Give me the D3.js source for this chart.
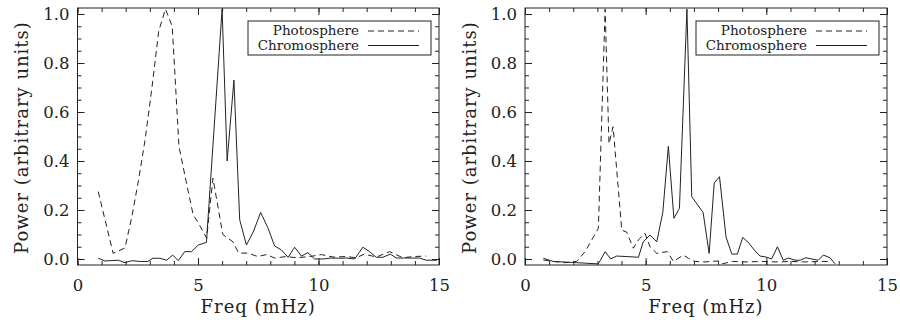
<!DOCTYPE html>
<html>
<head>
<meta charset="utf-8">
<script src="https://cdn.jsdelivr.net/npm/d3@7"></script>
<style>
  html, body { margin: 0; padding: 0; background: #fff; }
  svg { display: block; }
  text { font-family: "DejaVu Serif", "Liberation Serif", serif; fill: #222; }
</style>
</head>
<body>
<svg id="chart" width="900" height="327"></svg>
<script>
// ---------------- DATA ----------------
const xTickValues = [0, 5, 10, 15];
const xTickLabels = ["0", "5", "10", "15"];
const yTickValues = [0.0, 0.2, 0.4, 0.6, 0.8, 1.0];
const yTickLabels = ["0.0", "0.2", "0.4", "0.6", "0.8", "1.0"];
const seriesNames = ["Photosphere", "Chromosphere"];
const xTitle = "Freq (mHz)";
const yTitle = "Power (arbitrary units)";

// Left panel
const leftPhotoFreq  = [0.86, 1.48, 1.97, 2.25, 2.53, 2.81, 3.09, 3.37, 3.65, 3.93, 4.21, 4.50, 4.80, 5.00, 5.36, 5.62, 5.78, 6.03, 6.45, 6.69, 7.07, 7.48, 7.84, 8.18, 8.67, 9.08, 9.64, 10.12, 10.60, 11.16, 11.57, 11.90, 12.40, 12.95, 13.50, 13.92, 14.47];
const leftPhotoPower = [0.275, 0.023, 0.045, 0.17, 0.32, 0.49, 0.70, 0.93, 1.02, 0.95, 0.46, 0.32, 0.18, 0.15, 0.085, 0.33, 0.24, 0.10, 0.07, 0.024, 0.024, 0.010, 0.018, 0.004, 0.010, 0.005, 0.010, 0.018, 0.008, 0.010, 0.005, 0.020, 0.008, 0.030, 0.005, 0.010, 0.012];

const leftChromoFreq  = [0.86, 1.14, 1.69, 1.97, 2.25, 2.59, 2.92, 3.13, 3.42, 3.70, 3.95, 4.18, 4.45, 4.73, 5.01, 5.35, 6.00, 6.21, 6.49, 6.73, 7.01, 7.29, 7.60, 7.91, 8.18, 8.46, 8.74, 9.01, 9.29, 9.56, 9.84, 10.19, 10.53, 10.88, 11.16, 11.50, 11.84, 12.12, 12.40, 12.67, 12.98, 13.23, 13.57, 13.92, 14.19, 14.47, 14.91];
const leftChromoPower = [0.003, -0.008, -0.005, -0.015, -0.007, -0.010, -0.010, 0.003, 0.003, -0.005, 0.016, -0.007, 0.030, 0.030, 0.057, 0.068, 1.02, 0.40, 0.73, 0.16, 0.057, 0.11, 0.19, 0.125, 0.053, 0.037, 0.007, 0.048, 0.012, 0.026, 0.000, 0.000, 0.004, 0.003, 0.004, 0.000, 0.048, 0.030, 0.007, 0.007, 0.020, 0.004, 0.004, 0.004, 0.004, -0.005, -0.005];

// Right panel
const rightPhotoFreq  = [0.76, 1.17, 1.66, 2.14, 2.49, 3.04, 3.32, 3.48, 3.65, 4.01, 4.21, 4.49, 4.70, 4.97, 5.18, 5.46, 5.90, 6.15, 6.56, 6.77, 7.05, 7.46, 8.01, 8.16, 8.60, 9.20, 9.80, 10.40, 11.00, 11.60, 12.20, 12.60];
const rightPhotoPower = [-0.004, -0.010, -0.015, -0.010, 0.030, 0.125, 1.02, 0.47, 0.54, 0.118, 0.11, 0.044, 0.078, 0.105, 0.050, 0.023, 0.030, -0.010, 0.016, 0.003, -0.010, -0.012, -0.008, -0.020, -0.010, -0.012, -0.010, -0.012, -0.010, -0.012, -0.010, -0.010];

const rightChromoFreq  = [0.76, 1.17, 2.14, 3.04, 3.32, 3.55, 3.80, 4.23, 4.70, 4.90, 5.18, 5.46, 5.71, 5.94, 6.17, 6.40, 6.71, 6.91, 7.38, 7.63, 7.84, 8.06, 8.33, 8.57, 8.80, 9.02, 9.25, 9.53, 9.74, 9.99, 10.22, 10.46, 10.70, 10.91, 11.19, 11.40, 11.64, 11.89, 12.15, 12.36, 12.64, 12.85];
const rightChromoPower = [0.003, -0.010, -0.015, -0.020, 0.030, 0.000, 0.012, 0.010, 0.007, 0.070, 0.098, 0.070, 0.19, 0.46, 0.166, 0.207, 1.02, 0.254, 0.19, 0.023, 0.31, 0.336, 0.09, 0.020, 0.020, 0.088, 0.068, 0.033, 0.012, 0.008, 0.000, 0.050, -0.005, 0.004, -0.005, -0.005, 0.005, 0.000, -0.005, 0.016, 0.005, -0.020];

// ---------------- DRAW ----------------
const svg = d3.select("#chart");
const ink = "#222";
const plotTop = 8, plotBottom = 265;

const panels = [
  { id: "L", x0: 77.5, x1: 439, titleX: 22,
    photo: [leftPhotoFreq, leftPhotoPower], chromo: [leftChromoFreq, leftChromoPower] },
  { id: "R", x0: 525, x1: 887, titleX: 470,
    photo: [rightPhotoFreq, rightPhotoPower], chromo: [rightChromoFreq, rightChromoPower] }
];

const minorX = d3.range(0, 16, 1);
const minorY = d3.range(0, 21, 1).map(i => +(i * 0.05).toFixed(2));

panels.forEach(p => {
  const x = d3.scaleLinear().domain([0, 15]).range([p.x0, p.x1]);
  const y = d3.scaleLinear().domain([-0.0245, 1.0245]).range([plotBottom, plotTop]);
  const g = svg.append("g");

  svg.append("clipPath").attr("id", "clip" + p.id)
    .append("rect").attr("x", p.x0).attr("y", plotTop)
    .attr("width", p.x1 - p.x0).attr("height", plotBottom - plotTop);

  const styleAxis = sel => {
    sel.select(".domain").remove();
    sel.selectAll(".tick line").attr("stroke", ink).attr("stroke-width", 1);
    sel.selectAll(".tick text").style("font-size", "16.5px").attr("fill", ink);
  };

  // bottom axis
  g.append("g").attr("transform", `translate(0,${plotBottom})`)
    .call(d3.axisBottom(x).tickValues(minorX).tickSize(-4).tickFormat(""))
    .call(styleAxis);
  g.append("g").attr("transform", `translate(0,${plotBottom})`)
    .call(d3.axisBottom(x).tickValues(xTickValues).tickSize(-7).tickPadding(14)
      .tickFormat((d, i) => xTickLabels[i]))
    .call(styleAxis);
  // top axis
  g.append("g").attr("transform", `translate(0,${plotTop})`)
    .call(d3.axisTop(x).tickValues(minorX).tickSize(-4).tickFormat(""))
    .call(styleAxis);
  g.append("g").attr("transform", `translate(0,${plotTop})`)
    .call(d3.axisTop(x).tickValues(xTickValues).tickSize(-7).tickFormat(""))
    .call(styleAxis);
  // left axis
  g.append("g").attr("transform", `translate(${p.x0},0)`)
    .call(d3.axisLeft(y).tickValues(minorY).tickSize(-4).tickFormat(""))
    .call(styleAxis);
  g.append("g").attr("transform", `translate(${p.x0},0)`)
    .call(d3.axisLeft(y).tickValues(yTickValues).tickSize(-7).tickPadding(8)
      .tickFormat((d, i) => yTickLabels[i]))
    .call(styleAxis);
  // right axis
  g.append("g").attr("transform", `translate(${p.x1},0)`)
    .call(d3.axisRight(y).tickValues(minorY).tickSize(-4).tickFormat(""))
    .call(styleAxis);
  g.append("g").attr("transform", `translate(${p.x1},0)`)
    .call(d3.axisRight(y).tickValues(yTickValues).tickSize(-7).tickFormat(""))
    .call(styleAxis);

  // frame
  g.append("rect").attr("x", p.x0).attr("y", plotTop)
    .attr("width", p.x1 - p.x0).attr("height", plotBottom - plotTop)
    .attr("fill", "none").attr("stroke", ink).attr("stroke-width", 1);

  // titles
  g.append("text").attr("x", (p.x0 + p.x1) / 2).attr("y", 313)
    .attr("text-anchor", "middle").style("font-size", "18px")
    .style("letter-spacing", "1px").text(xTitle);
  g.append("text").attr("transform", `translate(${p.titleX},${(plotTop + plotBottom) / 2 + 1}) rotate(-90)`)
    .attr("text-anchor", "middle").attr("dy", "0.35em").style("font-size", "18px")
    .style("letter-spacing", "1px").text(yTitle);

  // lines
  const line = d3.line().x(d => x(d[0])).y(d => y(d[1]));
  const lg = g.append("g").attr("clip-path", `url(#clip${p.id})`);
  lg.append("path").datum(d3.zip(p.photo[0], p.photo[1]))
    .attr("d", line).attr("fill", "none").attr("stroke", ink).attr("stroke-width", 1)
    .attr("stroke-dasharray", "6,4");
  lg.append("path").datum(d3.zip(p.chromo[0], p.chromo[1]))
    .attr("d", line).attr("fill", "none").attr("stroke", ink).attr("stroke-width", 1);

  // legend
  const lx = p.x1 - 191, ly = 21;
  const leg = g.append("g");
  leg.append("rect").attr("x", lx).attr("y", ly).attr("width", 183).attr("height", 34)
    .attr("fill", "#fff").attr("stroke", ink).attr("stroke-width", 1);
  seriesNames.forEach((name, i) => {
    const yy = ly + 10 + i * 14.5;
    leg.append("text").attr("x", lx + 111).attr("y", yy).attr("dy", "0.32em")
      .attr("text-anchor", "end").style("font-size", "13.5px").text(name);
    leg.append("line").attr("x1", lx + 120).attr("x2", lx + 171)
      .attr("y1", yy).attr("y2", yy).attr("stroke", ink).attr("stroke-width", 1)
      .attr("stroke-dasharray", i === 0 ? "6,4" : null);
  });
});
</script>
</body>
</html>
